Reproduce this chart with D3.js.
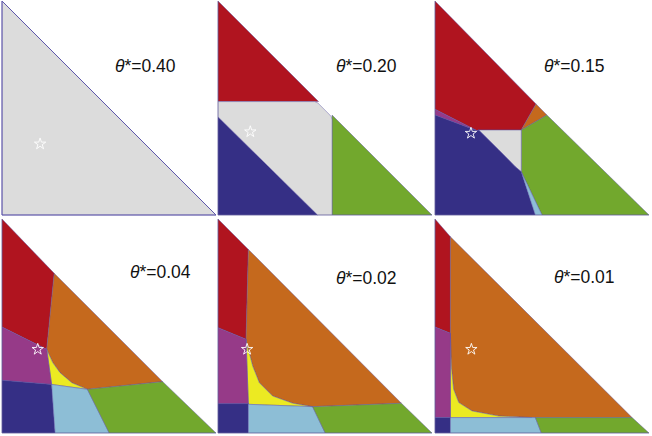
<!DOCTYPE html>
<html>
<head>
<meta charset="utf-8">
<script src="https://cdn.jsdelivr.net/npm/d3@7"></script>
<style>
  html, body { margin: 0; padding: 0; background: #fff; }
  svg { display: block; }
</style>
</head>
<body>
<svg id="chart" width="652" height="436"></svg>
<script>
// ---------- DATA (simplex coordinates: x along bottom, y along left edge) ----------
const thetaValues = ["0.40", "0.20", "0.15", "0.04", "0.02", "0.01"];

// star (optimum) location per panel
const starX = [0.178, 0.151, 0.168, 0.167, 0.136, 0.170];
const starY = [0.332, 0.389, 0.382, 0.391, 0.391, 0.391];

// regions per panel: [class, polygon]
const panel1Regions = [
  ["gray",  [[0,0],[1,0],[0,1]]]
];
const panel2Regions = [
  ["red",   [[0,1],[0,0.530],[0.470,0.530]]],
  ["blue",  [[0,0],[0,0.459],[0.466,0]]],
  ["green", [[0.533,0],[1,0],[0.533,0.467]]],
  ["gray",  [[0,0.459],[0,0.530],[0.452,0.530],[0.466,0.524],[0.518,0.472],[0.529,0.460],[0.533,0.445],[0.533,0],[0.466,0]]]
];
const panel3Regions = [
  ["red",     [[0,1],[0.472,0.519],[0.403,0.397],[0.204,0.397],[0.196,0.394],[0,0.494]]],
  ["orange",  [[0.472,0.519],[0.523,0.467],[0.403,0.397]]],
  ["green",   [[0.523,0.467],[1,0],[0.500,0],[0.403,0.202],[0.403,0.397]]],
  ["gray",    [[0.204,0.397],[0.403,0.397],[0.403,0.202],[0.375,0.226],[0.298,0.304]]],
  ["magenta", [[0,0.494],[0.196,0.394],[0,0.467]]],
  ["blue",    [[0,0],[0,0.467],[0.196,0.394],[0.204,0.397],[0.298,0.304],[0.375,0.226],[0.403,0.202],[0.469,0]]],
  ["lightblue", [[0.403,0.202],[0.469,0],[0.500,0]]]
];
const panel4Regions = [
  ["red",     [[0,1],[0.244,0.746],[0.209,0.391],[0,0.495]]],
  ["orange",  [[0.244,0.746],[0.751,0.240],[0.399,0.204],[0.326,0.235],[0.271,0.282],[0.237,0.329],[0.216,0.375],[0.209,0.391]]],
  ["yellow",  [[0.209,0.391],[0.216,0.375],[0.237,0.329],[0.271,0.282],[0.326,0.235],[0.399,0.204],[0.232,0.227]]],
  ["magenta", [[0,0.495],[0.209,0.391],[0.232,0.227],[0,0.246]]],
  ["blue",    [[0,0],[0,0.246],[0.232,0.227],[0.248,0]]],
  ["lightblue", [[0.248,0],[0.232,0.227],[0.399,0.204],[0.501,0]]],
  ["green",   [[0.399,0.204],[0.751,0.240],[1,0],[0.501,0]]]
];
const panel5Regions = [
  ["red",     [[0,1],[0.142,0.858],[0.131,0.438],[0,0.492]]],
  ["orange",  [[0.142,0.858],[0.857,0.139],[0.442,0.123],[0.349,0.139],[0.255,0.173],[0.193,0.235],[0.162,0.313],[0.146,0.375],[0.134,0.414],[0.131,0.438]]],
  ["yellow",  [[0.131,0.438],[0.134,0.414],[0.146,0.375],[0.162,0.313],[0.193,0.235],[0.255,0.173],[0.349,0.139],[0.442,0.123],[0.142,0.134]]],
  ["magenta", [[0,0.492],[0.131,0.438],[0.142,0.137],[0,0.137]]],
  ["blue",    [[0,0],[0,0.137],[0.142,0.137],[0.142,0]]],
  ["lightblue", [[0.142,0],[0.142,0.134],[0.442,0.123],[0.501,0]]],
  ["green",   [[0.442,0.123],[0.857,0.139],[1,0],[0.501,0]]]
];
const panel6Regions = [
  ["red",     [[0,1],[0.072,0.917],[0.072,0.466],[0,0.495]]],
  ["orange",  [[0.072,0.917],[0.921,0.072],[0.453,0.072],[0.298,0.079],[0.173,0.103],[0.111,0.142],[0.087,0.204],[0.076,0.313],[0.072,0.466]]],
  ["yellow",  [[0.072,0.466],[0.076,0.313],[0.087,0.204],[0.111,0.142],[0.173,0.103],[0.298,0.079],[0.453,0.072],[0.072,0.072]]],
  ["magenta", [[0,0.495],[0.072,0.466],[0.072,0.072],[0,0.072]]],
  ["blue",    [[0,0],[0,0.072],[0.072,0.072],[0.072,0]]],
  ["lightblue", [[0.072,0],[0.072,0.072],[0.469,0.072],[0.497,0]]],
  ["green",   [[0.469,0.072],[0.921,0.072],[1,0],[0.497,0]]]
];
const panelRegions = [panel1Regions, panel2Regions, panel3Regions, panel4Regions, panel5Regions, panel6Regions];

// ---------- STYLE / LAYOUT ----------
const palette = {
  gray: "#dcdcdc", red: "#b0141f", blue: "#352f85", green: "#72a82d",
  orange: "#c5691d", magenta: "#963a88", yellow: "#ecea22", lightblue: "#8dbed6"
};
const panelLeft = [2, 218, 435];
const panelTop = [1, 219];
const panelSize = 214;
const labelPos = [[0.528, 0.668], [0.551, 0.668], [0.509, 0.668], [0.598, 0.726], [0.551, 0.695], [0.556, 0.702]];

const svg = d3.select("#chart");

panelRegions.forEach((regions, i) => {
  const col = i % 3, row = Math.floor(i / 3);
  const x = d3.scaleLinear().domain([0, 1]).range([panelLeft[col], panelLeft[col] + panelSize]);
  const y = d3.scaleLinear().domain([0, 1]).range([panelTop[row] + panelSize, panelTop[row]]);
  const line = d3.line().x(d => x(d[0])).y(d => y(d[1])).curve(d3.curveLinearClosed);

  const g = svg.append("g").attr("class", "panel");
  g.selectAll("path.region").data(regions).join("path")
    .attr("class", "region")
    .attr("d", d => line(d[1]))
    .attr("fill", d => palette[d[0]])
    .attr("stroke", "#5a50a2")
    .attr("stroke-opacity", 0.55)
    .attr("stroke-width", 0.8)
    .attr("stroke-linejoin", "round");

  // outer triangle outline (left and bottom edges; full outline in first panel)
  g.append("path")
    .attr("d", i === 0 ? line([[0, 0], [1, 0], [0, 1]]) : d3.line().x(d => x(d[0])).y(d => y(d[1]))([[0, 1], [0, 0], [1, 0]]))
    .attr("fill", "none")
    .attr("stroke", i === 0 ? "#5e57aa" : "#6a6a9a")
    .attr("stroke-opacity", i === 0 ? 1 : 0.5)
    .attr("stroke-width", 1);

  // star marker
  g.append("path")
    .attr("d", d3.symbol().type(d3.symbolStar).size(40)())
    .attr("transform", `translate(${x(starX[i])},${y(starY[i])})`)
    .attr("fill", "none")
    .attr("stroke", "#ffffff")
    .attr("stroke-width", 0.9);

  // label
  const t = g.append("text")
    .attr("x", x(labelPos[i][0]))
    .attr("y", y(labelPos[i][1]))
    .attr("font-family", "'Liberation Sans', Arial, sans-serif")
    .attr("font-size", 17.5)
    .attr("fill", "#111");
  t.append("tspan").attr("font-style", "italic").text("θ");
  t.append("tspan").text("*=" + thetaValues[i]);
});
</script>
</body>
</html>
